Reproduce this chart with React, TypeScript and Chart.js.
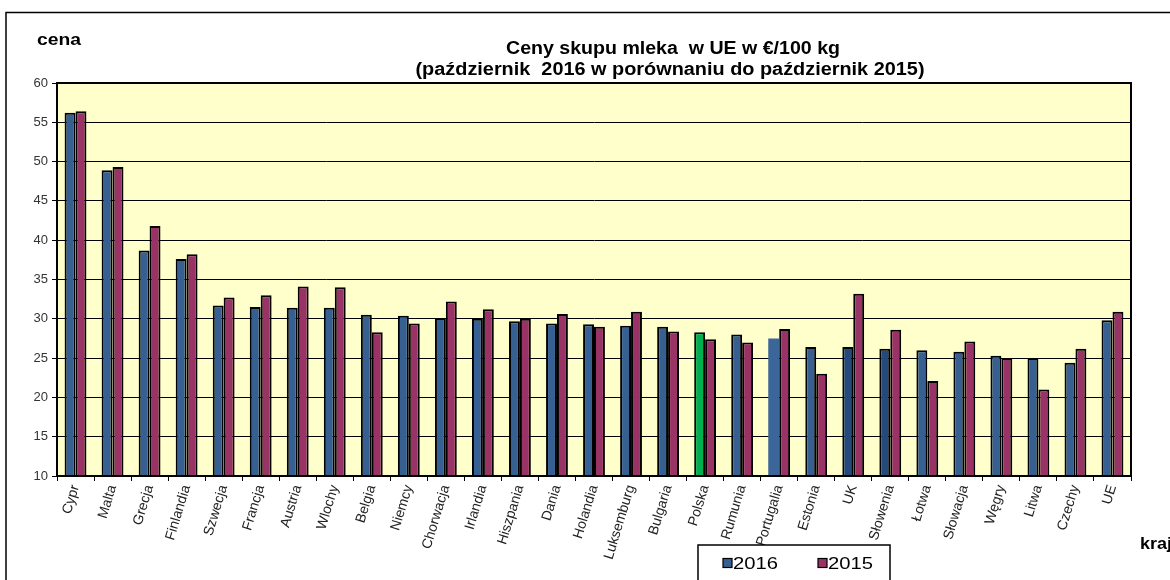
import React, { useEffect, useRef } from "react";
import { Chart, registerables } from "chart.js";

Chart.register(...registerables);

const categories = [
  "Cypr", "Malta", "Grecja", "Finlandia", "Szwecja", "Francja", "Austria", "Wlochy",
  "Belgia", "Niemcy", "Chorwacja", "Irlandia", "Hiszpania", "Dania", "Holandia",
  "Luksemburg", "Bulgaria", "Polska", "Rumunia", "Portugalia", "Estonia", "UK",
  "Słowenia", "Łotwa", "Słowacja", "Węgry", "Litwa", "Czechy", "UE",
];

const values2016 = [
  56.2, 48.9, 38.7, 37.6, 31.7, 31.5, 31.4, 31.4, 30.5, 30.4, 30.1, 30.0, 29.7, 29.4,
  29.3, 29.1, 29.0, 28.3, 28.0, 27.5, 26.4, 26.4, 26.2, 26.0, 25.8, 25.3, 25.0, 24.4, 29.8,
];

const values2015 = [
  56.4, 49.3, 41.8, 38.2, 32.7, 33.0, 34.1, 34.0, 28.3, 29.4, 32.2, 31.2, 30.0, 30.6,
  29.0, 30.9, 28.4, 27.4, 27.0, 28.7, 23.0, 33.2, 28.6, 22.1, 27.1, 25.0, 21.0, 26.2, 30.9,
];

const seriesNames = ["2016", "2015"];
const yTicks = [10, 15, 20, 25, 30, 35, 40, 45, 50, 55, 60];

const titleLines = [
  "Ceny skupu mleka  w UE w €/100 kg",
  "(październik  2016 w porównaniu do październik 2015)",
];

const FONT = "'Liberation Sans', Arial, sans-serif";
const BLUE = "#376092";
const MAROON = "#993366";
const special2016: Record<string, string> = {
  Polska: "#00B050",
  UK: "#244A7C",
  "Słowenia": "#244A7C",
  Portugalia: "#3C6699",
};

function drawFit(ctx: CanvasRenderingContext2D, text: string, x: number, y: number, font: string, width: number, align: "left" | "center") {
  ctx.save();
  ctx.font = font;
  ctx.textAlign = "left";
  ctx.textBaseline = "alphabetic";
  const w = ctx.measureText(text).width;
  const sx = width / w;
  const left = align === "center" ? x - width / 2 : x;
  ctx.translate(left, y);
  ctx.scale(sx, 1);
  ctx.fillText(text, 0, 0);
  ctx.restore();
}

const decorPlugin = {
  id: "decor",
  beforeDraw(chart: any) {
    const { ctx, chartArea } = chart;
    ctx.save();
    ctx.fillStyle = "#ffffff";
    ctx.fillRect(0, 0, chart.width, chart.height);
    ctx.fillStyle = "#FFFFCC";
    ctx.fillRect(chartArea.left, chartArea.top, chartArea.right - chartArea.left, chartArea.bottom - chartArea.top);
    ctx.restore();
  },
  afterDraw(chart: any) {
    const { ctx, chartArea } = chart;
    ctx.save();
    ctx.strokeStyle = "#000";
    ctx.lineWidth = 2;
    ctx.strokeRect(chartArea.left, chartArea.top, chartArea.right - chartArea.left, chartArea.bottom - chartArea.top);
    ctx.lineWidth = 1.5;
    ctx.beginPath();
    ctx.moveTo(6, 600);
    ctx.lineTo(6, 12.5);
    ctx.lineTo(1200, 12.5);
    ctx.stroke();
    ctx.fillStyle = "#000";
    drawFit(ctx, titleLines[0], 673, 54, `bold 18px ${FONT}`, 334, "center");
    drawFit(ctx, titleLines[1], 670, 75, `bold 18px ${FONT}`, 509, "center");
    drawFit(ctx, "cena", 37, 45, `bold 16px ${FONT}`, 44, "left");
    drawFit(ctx, "kraj", 1140, 549, `bold 16px ${FONT}`, 32, "left");
    ctx.fillStyle = "#fff";
    ctx.fillRect(698, 545, 192, 50);
    ctx.strokeStyle = "#000";
    ctx.lineWidth = 1.5;
    ctx.strokeRect(698, 545, 192, 50);
    const items = [
      { x: 723, color: BLUE, label: seriesNames[0] },
      { x: 818, color: MAROON, label: seriesNames[1] },
    ];
    for (const it of items) {
      ctx.fillStyle = it.color;
      ctx.fillRect(it.x, 558.5, 9, 9);
      ctx.lineWidth = 1.2;
      ctx.strokeRect(it.x, 558.5, 9, 9);
      ctx.fillStyle = "#000";
      drawFit(ctx, it.label, it.x + 10, 569, `17px ${FONT}`, 45, "left");
    }
    ctx.restore();
  },
};

export default function App() {
  const ref = useRef<HTMLCanvasElement | null>(null);
  useEffect(() => {
    if (!ref.current) return;
    const colors2016 = categories.map((c) => special2016[c] || BLUE);
    const borders2016 = categories.map((c) => (c === "Portugalia" ? 0 : 2));
    const chart = new Chart(ref.current, {
      type: "bar",
      data: {
        labels: categories,
        datasets: [
          {
            label: seriesNames[0],
            data: values2016,
            backgroundColor: colors2016,
            borderColor: "#000",
            borderWidth: borders2016,
            barPercentage: 1,
            categoryPercentage: 0.59,
          },
          {
            label: seriesNames[1],
            data: values2015,
            backgroundColor: MAROON,
            borderColor: "#000",
            borderWidth: 2,
            barPercentage: 1,
            categoryPercentage: 0.59,
          },
        ],
      },
      options: {
        animation: false,
        responsive: false,
        maintainAspectRatio: false,
        layout: { padding: { left: 0, top: 83, right: 39, bottom: 0 } },
        plugins: {
          legend: { display: false },
          title: { display: false },
          tooltip: { enabled: false },
        },
        scales: {
          x: {
            offset: true,
            grid: {
              offset: true,
              drawOnChartArea: false,
              drawTicks: true,
              tickLength: 5,
              color: "#000",
              tickColor: "#000",
            },
            border: { display: true, color: "#000", width: 2 },
            ticks: {
              autoSkip: false,
              maxRotation: 73,
              minRotation: 73,
              padding: 2,
              color: "#222",
              font: { family: FONT, size: 14 },
            },
            afterFit(scale: any) {
              scale.height = 104;
            },
          },
          y: {
            min: 10,
            max: 60,
            afterBuildTicks(scale: any) {
              scale.ticks = yTicks.map((v) => ({ value: v }));
            },
            grid: {
              color: "#000",
              lineWidth: 1,
              drawTicks: true,
              tickLength: 5,
              tickColor: "#000",
            },
            border: { display: true, color: "#000", width: 2 },
            ticks: {
              padding: 4,
              color: "#333",
              font: { family: FONT, size: 13 },
            },
            afterFit(scale: any) {
              scale.width = 57;
            },
          },
        },
      },
      plugins: [decorPlugin],
    });
    return () => chart.destroy();
  }, []);
  return (
    <div style={{ position: "fixed", left: 0, top: 0, width: 1170, height: 580 }}>
      <canvas ref={ref} width={1170} height={580} style={{ width: 1170, height: 580, display: "block" }} />
    </div>
  );
}
